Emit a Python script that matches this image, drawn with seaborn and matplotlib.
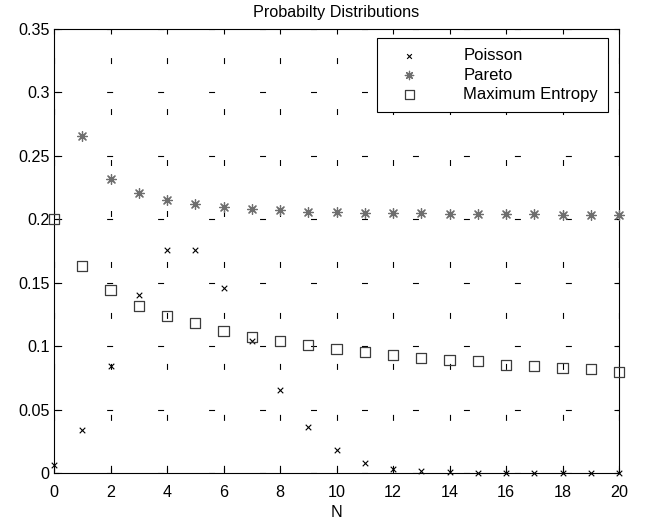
import matplotlib
matplotlib.use("Agg")
import matplotlib.pyplot as plt
import seaborn as sns
import pandas as pd

# values
n_values = list(range(21))
poisson = [0.0067, 0.0337, 0.0842, 0.1404, 0.1755, 0.1755, 0.1462, 0.1044,
           0.0653, 0.0363, 0.0181, 0.0082, 0.0034, 0.0013, 0.0005, 0.0002,
           0.0001, 0.0000, 0.0000, 0.0000, 0.0000]
pareto_n = list(range(1, 21))
pareto = [0.266, 0.232, 0.221, 0.215, 0.212, 0.210, 0.208, 0.207, 0.206, 0.206,
          0.205, 0.205, 0.205, 0.204, 0.204, 0.204, 0.204, 0.203, 0.203, 0.203]
max_entropy = [0.200, 0.163, 0.144, 0.132, 0.124, 0.118, 0.112, 0.107, 0.104,
               0.101, 0.098, 0.095, 0.093, 0.091, 0.089, 0.088, 0.085, 0.084,
               0.083, 0.082, 0.080]
x_ticks = list(range(0, 21, 2))
y_ticks = [0, 0.05, 0.1, 0.15, 0.2, 0.25, 0.3, 0.35]

plt.rcParams["font.family"] = ["Liberation Sans", "DejaVu Sans"]
plt.rcParams["font.size"] = 11.6
plt.rcParams["lines.scale_dashes"] = False


def main():
    df_poisson = pd.DataFrame({"N": n_values, "P": poisson})
    df_pareto = pd.DataFrame({"N": pareto_n, "P": pareto})
    df_maxent = pd.DataFrame({"N": n_values, "P": max_entropy})

    fig = plt.figure(figsize=(6.5, 5.23), dpi=100)
    ax = fig.add_axes([54 / 650, 1 - 473 / 523, 565 / 650, 444 / 523])

    sns.scatterplot(df_poisson, x="N", y="P", ax=ax, marker="x", s=16,
                    color="black", linewidth=0.8, label="Poisson",
                    clip_on=False, zorder=3)
    sns.scatterplot(df_pareto, x="N", y="P", ax=ax, marker=(8, 2, 0), s=50,
                    color="#6e6e6e", linewidth=0.9, label="Pareto",
                    clip_on=False, zorder=3)
    sns.scatterplot(df_maxent, x="N", y="P", ax=ax, marker="s", s=52,
                    facecolor="none", edgecolor="#3c3c3c", linewidth=0.9,
                    label="Maximum Entropy", clip_on=False, zorder=3)

    ax.set_xlim(0, 20)
    ax.set_ylim(0, 0.35)
    ax.set_xticks(x_ticks)
    ax.set_yticks(y_ticks)
    ax.set_yticklabels([f"{v:g}" for v in y_ticks])
    ax.tick_params(direction="in", length=3.6, width=0.8, top=True,
                   right=True, labelsize=11.6, colors="black")
    ax.tick_params(axis="x", pad=8.5)
    ax.tick_params(axis="y", pad=3)
    for sp in ax.spines.values():
        sp.set_linewidth(0.8)
        sp.set_color("black")

    # sparse dotted grid like the original export
    ax.grid(True, color="black", linewidth=0.8,
            linestyle=(35.5, (4.3, 32.4)))
    ax.set_axisbelow(True)

    ax.set_xlabel("N", fontsize=11.6, labelpad=3.5)
    ax.set_ylabel(None)
    ax.set_title("Probabilty Distributions", fontsize=11.6, pad=9)

    leg = ax.legend(loc="upper right", bbox_to_anchor=(554 / 565, 435 / 444),
                    borderaxespad=0, fontsize=12, fancybox=False,
                    framealpha=1, edgecolor="black", borderpad=0.6,
                    handlelength=2.63, handletextpad=1.92, labelspacing=0.27,
                    markerscale=0.85)
    leg.get_frame().set_linewidth(0.8)

    fig.savefig("out.png", dpi=100)


if __name__ == "__main__":
    main()
